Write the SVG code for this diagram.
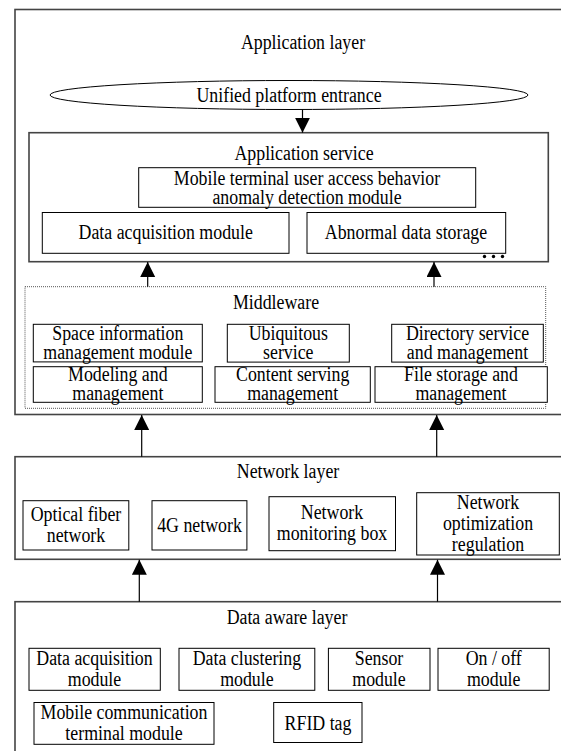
<svg xmlns="http://www.w3.org/2000/svg" width="561" height="751" viewBox="0 0 561 751">
<style>
  text { font-family: "Liberation Serif", "Times New Roman", serif; font-size: 20.5px; fill: #000; text-anchor: middle; }
  .layer { fill: #fff; stroke: #444; stroke-width: 1.6; }
  .box { fill: #fff; stroke: #000; stroke-width: 1; }
  .dotted { fill: none; stroke: #555; stroke-width: 1; stroke-dasharray: 1 1; }
  .conn { fill: none; stroke: #000; stroke-width: 1.2; }
</style>
<defs>
  <marker id="arr" markerUnits="userSpaceOnUse" markerWidth="16" markerHeight="16" refX="15" refY="7.5" orient="auto">
    <path d="M0,0 L15,7.5 L0,15 z" fill="#000"/>
  </marker>
</defs>

<g id="application-layer">
  <rect class="layer" x="15" y="9.5" width="570" height="405"/>
  <text transform="translate(303 49) scale(0.87 1)">Application layer</text>
</g>
<g id="unified-platform-entrance">
  <ellipse cx="289" cy="95" rx="239" ry="14.5" fill="#fff" stroke="#000" stroke-width="1"/>
  <text transform="translate(289 101.5) scale(0.87 1)">Unified platform entrance</text>
</g>
<g id="application-service">
  <rect class="layer" x="29" y="132.7" width="519.3" height="129"/>
  <text transform="translate(304 160) scale(0.87 1)">Application service</text>
</g>
<g id="anomaly-detection-module">
  <rect class="box" x="138.7" y="167.7" width="337" height="39.6"/>
  <text transform="translate(307 185) scale(0.87 1)">Mobile terminal user access behavior</text>
  <text transform="translate(307 204) scale(0.87 1)">anomaly detection module</text>
</g>
<g id="app-data-acquisition">
  <rect class="box" x="42.3" y="212.5" width="246.7" height="40.8"/>
  <text transform="translate(165.7 239) scale(0.87 1)">Data acquisition module</text>
</g>
<g id="abnormal-data-storage">
  <rect class="box" x="307" y="212.5" width="198.7" height="40.8"/>
  <text transform="translate(406 239) scale(0.87 1)">Abnormal data storage</text>
</g>
<g id="ellipsis">
  <circle cx="484.5" cy="256.5" r="1.7"/>
  <circle cx="493.5" cy="256.5" r="1.7"/>
  <circle cx="502.5" cy="256.5" r="1.7"/>
</g>

<g id="middleware">
  <rect class="dotted" x="25" y="286.7" width="520.7" height="121.6"/>
  <text transform="translate(276 309) scale(0.87 1)">Middleware</text>
</g>
<g id="space-information">
  <rect class="box" x="33.3" y="324.3" width="169" height="37.6"/>
  <text transform="translate(117.8 339.5) scale(0.87 1)">Space information</text>
  <text transform="translate(117.8 358.5) scale(0.87 1)">management module</text>
</g>
<g id="ubiquitous-service">
  <rect class="box" x="227.3" y="324.3" width="122" height="37.8"/>
  <text transform="translate(288.3 339.5) scale(0.87 1)">Ubiquitous</text>
  <text transform="translate(288.3 358.5) scale(0.87 1)">service</text>
</g>
<g id="directory-service">
  <rect class="box" x="391.7" y="324.3" width="151.6" height="37.8"/>
  <text transform="translate(467.5 339.5) scale(0.87 1)">Directory service</text>
  <text transform="translate(467.5 358.5) scale(0.87 1)">and management</text>
</g>
<g id="modeling-management">
  <rect class="box" x="33.3" y="366.7" width="169" height="35.6"/>
  <text transform="translate(117.8 380.5) scale(0.87 1)">Modeling and</text>
  <text transform="translate(117.8 399.5) scale(0.87 1)">management</text>
</g>
<g id="content-serving">
  <rect class="box" x="215" y="366.7" width="155.3" height="35.6"/>
  <text transform="translate(292.7 380.5) scale(0.87 1)">Content serving</text>
  <text transform="translate(292.7 399.5) scale(0.87 1)">management</text>
</g>
<g id="file-storage">
  <rect class="box" x="375" y="366.7" width="172.3" height="35.6"/>
  <text transform="translate(461 380.5) scale(0.87 1)">File storage and</text>
  <text transform="translate(461 399.5) scale(0.87 1)">management</text>
</g>

<g id="network-layer">
  <rect class="layer" x="15" y="456.7" width="570" height="102.6"/>
  <text transform="translate(288 478) scale(0.87 1)">Network layer</text>
</g>
<g id="optical-fiber">
  <rect class="box" x="23" y="500.7" width="105.8" height="49.3"/>
  <text transform="translate(76 521) scale(0.87 1)">Optical fiber</text>
  <text transform="translate(76 542) scale(0.87 1)">network</text>
</g>
<g id="network-4g">
  <rect class="box" x="152" y="500.7" width="94.9" height="49.3"/>
  <text transform="translate(199.5 532) scale(0.87 1)">4G network</text>
</g>
<g id="network-monitoring-box">
  <rect class="box" x="269" y="496.7" width="126.5" height="54"/>
  <text transform="translate(332 519) scale(0.87 1)">Network</text>
  <text transform="translate(332 540) scale(0.87 1)">monitoring box</text>
</g>
<g id="network-optimization">
  <rect class="box" x="416.7" y="492.7" width="142.6" height="62.3"/>
  <text transform="translate(488 508.5) scale(0.87 1)">Network</text>
  <text transform="translate(488 529.5) scale(0.87 1)">optimization</text>
  <text transform="translate(488 550.5) scale(0.87 1)">regulation</text>
</g>

<g id="data-aware-layer">
  <rect class="layer" x="15" y="601.7" width="570" height="160"/>
  <text transform="translate(287 624) scale(0.87 1)">Data aware layer</text>
</g>
<g id="aware-data-acquisition">
  <rect class="box" x="29" y="648.3" width="131.3" height="42"/>
  <text transform="translate(94.5 665) scale(0.87 1)">Data acquisition</text>
  <text transform="translate(94.5 686) scale(0.87 1)">module</text>
</g>
<g id="data-clustering">
  <rect class="box" x="179" y="648.3" width="135.8" height="42"/>
  <text transform="translate(246.9 665) scale(0.87 1)">Data clustering</text>
  <text transform="translate(246.9 686) scale(0.87 1)">module</text>
</g>
<g id="sensor-module">
  <rect class="box" x="328.4" y="648.3" width="101.6" height="42"/>
  <text transform="translate(379 665) scale(0.87 1)">Sensor</text>
  <text transform="translate(379 686) scale(0.87 1)">module</text>
</g>
<g id="on-off-module">
  <rect class="box" x="438" y="648.3" width="111.2" height="42"/>
  <text transform="translate(493.7 665) scale(0.87 1)">On / off</text>
  <text transform="translate(493.7 686) scale(0.87 1)">module</text>
</g>
<g id="mobile-communication">
  <rect class="box" x="34" y="702.5" width="180" height="41.8"/>
  <text transform="translate(124 719) scale(0.87 1)">Mobile communication</text>
  <text transform="translate(124 740) scale(0.87 1)">terminal module</text>
</g>
<g id="rfid-tag">
  <rect class="box" x="273.7" y="702.5" width="88.3" height="40"/>
  <text transform="translate(318 729.5) scale(0.87 1)">RFID tag</text>
</g>

<g id="connectors">
  <line class="conn" x1="302.5" y1="109.5" x2="302.5" y2="132.7" marker-end="url(#arr)"/>
  <line class="conn" x1="147.7" y1="286.7" x2="147.7" y2="262" marker-end="url(#arr)"/>
  <line class="conn" x1="434" y1="286.7" x2="434" y2="262" marker-end="url(#arr)"/>
  <line class="conn" x1="141.7" y1="456.7" x2="141.7" y2="415" marker-end="url(#arr)"/>
  <line class="conn" x1="436.7" y1="456.7" x2="436.7" y2="415" marker-end="url(#arr)"/>
  <line class="conn" x1="139.3" y1="601.7" x2="139.3" y2="559.8" marker-end="url(#arr)"/>
  <line class="conn" x1="437.5" y1="601.7" x2="437.5" y2="559.8" marker-end="url(#arr)"/>
</g>
</svg>
